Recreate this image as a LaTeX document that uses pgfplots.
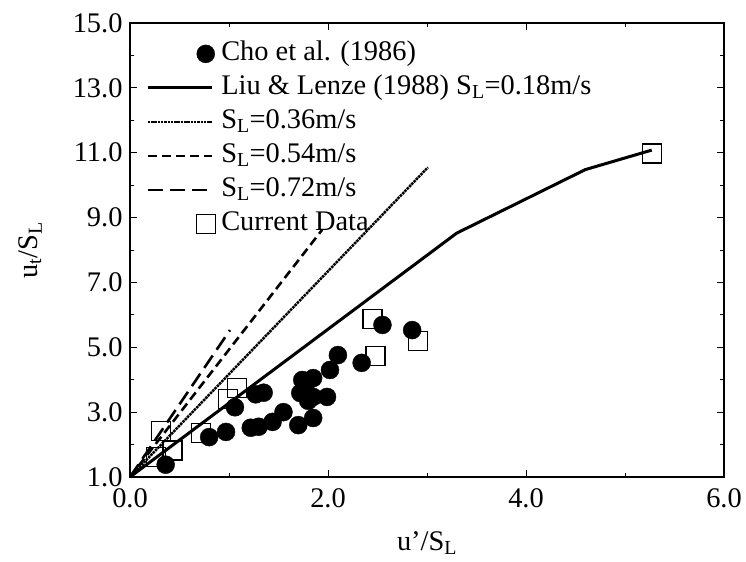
\documentclass[border=0pt]{standalone}
\usepackage{fontspec}
\setmainfont{Liberation Serif}
\usepackage{pgfplots}
\pgfplotsset{compat=1.18}

% Cho et al. (1986)
\pgfplotstableread{
x y
0.36 1.38
0.80 2.23
0.97 2.39
1.06 3.15
1.22 2.52
1.30 2.55
1.27 3.55
1.35 3.60
1.44 2.70
1.55 3.00
1.70 2.60
1.85 2.82
1.72 3.59
1.74 3.99
1.77 3.78
1.80 3.35
1.85 4.05
1.85 3.47
1.99 3.47
2.02 4.30
2.10 4.76
2.34 4.52
2.55 5.69
2.85 5.53
}\cho

% Current data
\pgfplotstableread{
x y
0.31 2.42
0.26 1.62
0.43 1.82
0.72 2.36
0.99 3.41
1.08 3.74
2.45 5.88
2.48 4.73
2.91 5.19
5.27 10.98
}\current

\newcommand{\lab}{\fontsize{28.5}{33}\selectfont}

\begin{document}
\begin{tikzpicture}
\begin{axis}[
  scale only axis,
  width=594bp, height=454bp,
  xmin=0, xmax=6, ymin=1, ymax=15,
  xtick={0,2,4,6}, minor xtick={1,3,5},
  ytick={1,3,...,15}, minor ytick={2,4,...,14},
  tick align=inside,
  major tick length=7bp, minor tick length=4bp,
  axis line style={line width=1.2bp},
  every tick/.style={black, line width=1bp},
  /pgf/number format/.cd, fixed, fixed zerofill, precision=1, assume math mode=true,
  /pgfplots/.cd,
  tick label style={font=\lab},
  xticklabel style={yshift=-8bp},
  yticklabel style={xshift=-4bp},
  label style={font=\lab},
  xlabel={u’/S\textsubscript{L}},
  ylabel={u\textsubscript{t}/S\textsubscript{L}},
  xlabel style={at={(axis description cs:0.5,-0.146)}, anchor=center},
  ylabel style={at={(axis description cs:-0.168,0.5)}, anchor=center},
  legend style={draw=none, fill=none, font=\lab,
    at={(rel axis cs:0.022,0.971)}, anchor=north west,
    row sep=3bp, nodes={text height=20bp, text depth=7bp, inner sep=2bp}},
  legend cell align=left,
  seglegend/.style={legend image code/.code={\draw[##1] (0bp,0bp) -- (64bp,0bp); \path (70bp,0bp);}},
  dotlegend/.style={legend image code/.code={\draw[mark repeat=2,mark phase=2,##1] plot coordinates {(0bp,0bp) (58bp,0bp) (64bp,0bp)}; \path (70bp,0bp);}},
]
\addplot[only marks, mark=*, mark size=9bp, black, mark options={fill=black}, dotlegend] table {\cho};
\addlegendentry{Cho et al. (1986)}

\addplot[black, line width=3bp, seglegend] coordinates {(0,1) (3.30,8.52) (4.60,10.48) (5.27,11.08)};
\addlegendentry{Liu \& Lenze (1988) S\textsubscript{L}=0.18m/s}

\addplot[black, line width=2.5bp, dash pattern=on 2.5bp off 0.8bp, seglegend] coordinates {(0,1) (3.01,10.55)};
\addlegendentry{S\textsubscript{L}=0.36m/s}

\addplot[black, line width=2.6bp, dash pattern=on 9bp off 5bp, seglegend] coordinates {(0,1) (1.94,8.62)};
\addlegendentry{S\textsubscript{L}=0.54m/s}

\addplot[black, line width=2.6bp, dash pattern=on 15bp off 7bp, seglegend] coordinates {(0,1) (1.01,5.53)};
\addlegendentry{S\textsubscript{L}=0.72m/s}

\addplot[only marks, mark=square, mark size=9.5bp, black, mark options={line width=1.3bp, fill=none}, dotlegend] table {\current};
\addlegendentry{Current Data}

\coordinate (bl) at (rel axis cs:0,0);
\coordinate (tr) at (rel axis cs:1,1);
\end{axis}
\pgfresetboundingbox
\useasboundingbox ([shift={(-130bp,-84bp)}]bl) rectangle ([shift={(22bp,23bp)}]tr);
\end{tikzpicture}
\end{document}
